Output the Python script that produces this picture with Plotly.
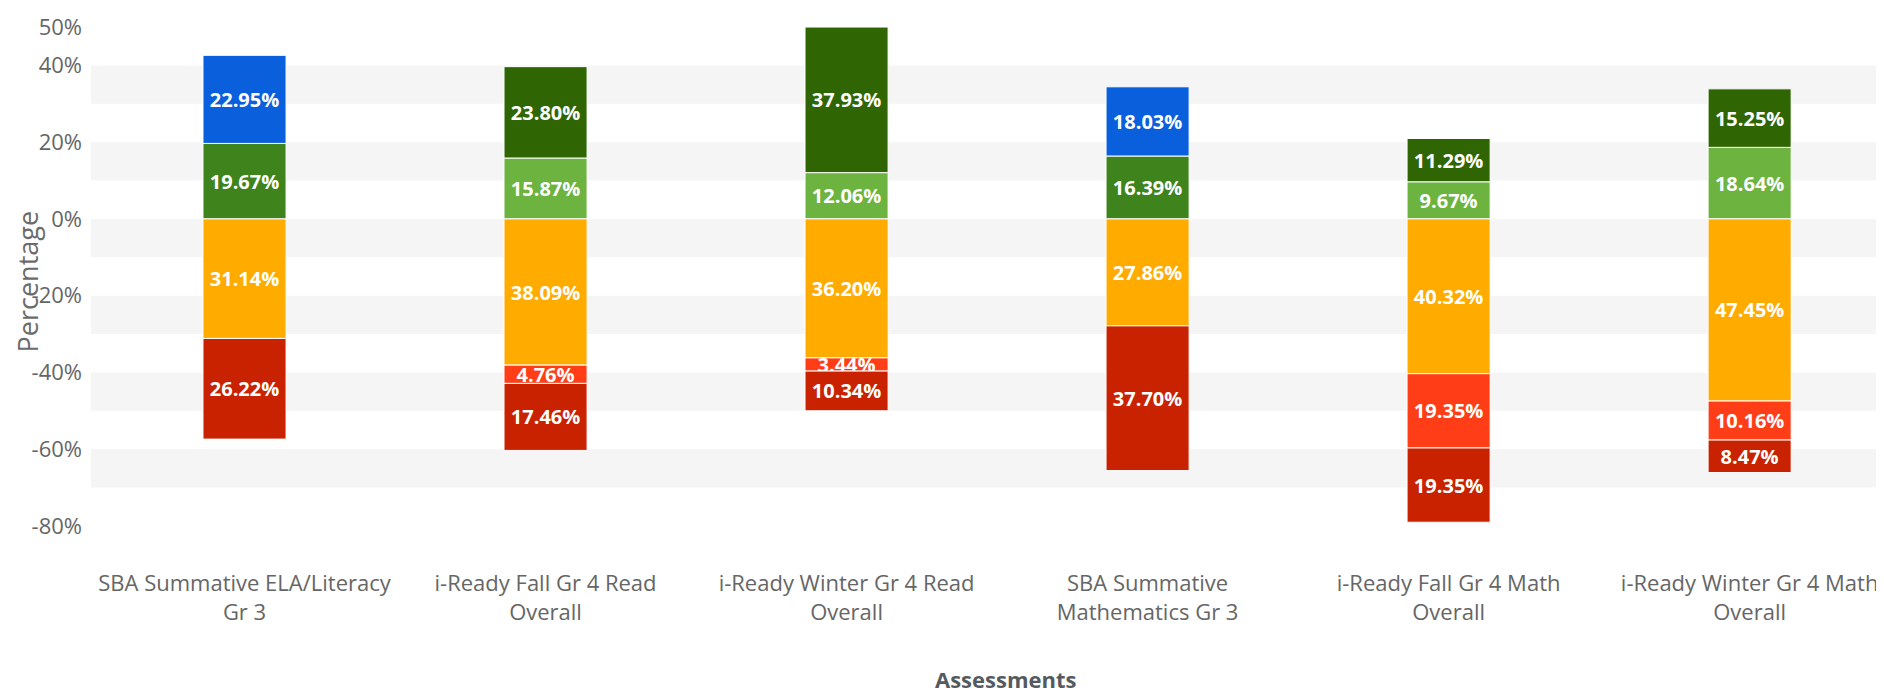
import plotly.graph_objects as go

categories = [
    "SBA Summative ELA/Literacy<br>Gr 3",
    "i-Ready Fall Gr 4 Read<br>Overall",
    "i-Ready Winter Gr 4 Read<br>Overall",
    "SBA Summative<br>Mathematics Gr 3",
    "i-Ready Fall Gr 4 Math<br>Overall",
    "i-Ready Winter Gr 4 Math<br>Overall",
]

# positive side (stacked upward from zero, inner first)
sba_met = [19.67, None, None, 16.39, None, None]
iready_early_on = [None, 15.87, 12.06, None, 9.67, 18.64]
sba_exceeded = [22.95, None, None, 18.03, None, None]
iready_mid_above = [None, 23.80, 37.93, None, 11.29, 15.25]
# negative side (stacked downward from zero)
near_one_below = [31.14, 38.09, 36.20, 27.86, 40.32, 47.45]
two_below = [None, 4.76, 3.44, None, 19.35, 10.16]
not_met_three_below = [26.22, 17.46, 10.34, 37.70, 19.35, 8.47]

ytick_vals = [-80, -60, -40, -20, 0, 20, 40, 50]
ytick_text = ["-80%", "-60%", "-40%", "-20%", "0%", "20%", "40%", "50%"]

series = [
    ("Met Standard", sba_met, 1, "#3e831b"),
    ("Early On Grade", iready_early_on, 1, "#6db33f"),
    ("Exceeded Standard", sba_exceeded, 1, "#0a5fdc"),
    ("Mid or Above Grade", iready_mid_above, 1, "#2f6603"),
    ("Nearly Met / One Grade Below", near_one_below, -1, "#ffab00"),
    ("Two Grades Below", two_below, -1, "#ff3d17"),
    ("Not Met / Three+ Grades Below", not_met_three_below, -1, "#c82200"),
]

FONT = "Open Sans, sans-serif"

fig = go.Figure()
for name, vals, sign, color in series:
    fig.add_trace(go.Bar(
        name=name,
        x=list(range(len(categories))),
        y=[None if v is None else sign * v for v in vals],
        text=[None if v is None else f"{v:.2f}%" for v in vals],
        textposition="inside",
        insidetextanchor="middle",
        textangle=0,
        constraintext="none",
        textfont=dict(family=FONT, size=20, color="white", weight="bold"),
        marker=dict(color=color, line=dict(color="white", width=1)),
        width=0.276,
        showlegend=False,
        cliponaxis=False,
    ))

shapes = []
for lo in range(-70, 40, 20):
    shapes.append(dict(type="rect", xref="paper", yref="y", x0=0, x1=1,
                       y0=lo, y1=lo + 10, fillcolor="#f5f5f5", line=dict(width=0),
                       layer="below"))
shapes.append(dict(type="line", xref="paper", yref="paper", x0=0.9944, x1=0.9944,
                   y0=-0.5, y1=1.2, line=dict(color="#cfe4fa", width=4)))

fig.update_layout(
    width=1884, height=693,
    barmode="relative",
    paper_bgcolor="white", plot_bgcolor="white",
    margin=dict(l=83, r=0, t=19, b=175),
    font=dict(family=FONT, color="#666666"),
    shapes=shapes,
    xaxis=dict(
        range=[-0.51, 5.473],
        tickvals=list(range(len(categories))),
        ticktext=categories,
        tickangle=0,
        automargin=False,
        tickfont=dict(family=FONT, size=22, color="#666666"),
        showgrid=False, zeroline=False, showline=False, ticks="",
        ticklabelstandoff=42,
    ),
    yaxis=dict(
        range=[-80, 50],
        automargin=False,
        tickvals=ytick_vals, ticktext=ytick_text,
        tickfont=dict(family=FONT, size=22, color="#666666"),
        showgrid=False, zeroline=False, showline=False, ticks="",
        ticklabelstandoff=8,
    ),
    annotations=[
        dict(text="Percentage", xref="paper", yref="paper", x=-0.035, y=0.49,
             textangle=-90, showarrow=False, xanchor="center", yanchor="middle",
             font=dict(family=FONT, size=27, color="#6b6b6b")),
        dict(text="<b>Assessments</b>", xref="x", yref="paper", x=2.53, y=-0.307,
             showarrow=False, xanchor="center", yanchor="middle",
             font=dict(family=FONT, size=22, color="#555a60")),
    ],
)

fig.write_html("out.html")
